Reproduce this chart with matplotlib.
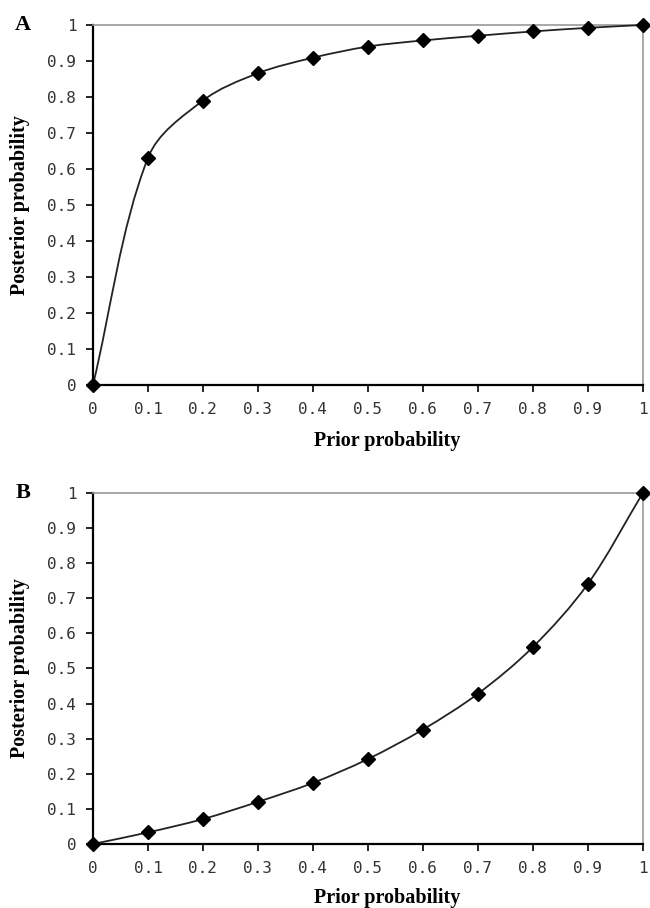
import numpy as np
import matplotlib
matplotlib.use('Agg')
import matplotlib.pyplot as plt
from matplotlib.path import Path
from matplotlib.patches import PathPatch

# data
prior = [0, 0.1, 0.2, 0.3, 0.4, 0.5, 0.6, 0.7, 0.8, 0.9, 1.0]
post_a = [0, 0.631, 0.79, 0.866, 0.909, 0.94, 0.957, 0.97, 0.982, 0.992, 1.0]
post_b = [0, 0.033, 0.071, 0.12, 0.174, 0.242, 0.326, 0.428, 0.561, 0.741, 1.0]
ticks = [0, 0.1, 0.2, 0.3, 0.4, 0.5, 0.6, 0.7, 0.8, 0.9, 1]
tick_labels = ['0', '0.1', '0.2', '0.3', '0.4', '0.5', '0.6', '0.7', '0.8', '0.9', '1']
panels = ['A', 'B']


def smooth_path(x, y, aspect):
    # smoothed line through the points (cubic bezier, tangents from neighbours)
    # work in a space where x and y have the same pixel scale
    p = np.column_stack([np.asarray(x, float), np.asarray(y, float) * aspect])
    n = len(p)
    tang = []
    for i in range(n):
        d = p[min(i + 1, n - 1)] - p[max(i - 1, 0)]
        tang.append(d / np.hypot(*d))
    verts = [p[0]]
    codes = [Path.MOVETO]
    for i in range(n - 1):
        seg = np.hypot(*(p[i + 1] - p[i]))
        c1 = p[i] + tang[i] * seg * 0.33
        c2 = p[i + 1] - tang[i + 1] * seg * 0.33
        verts += [c1, c2, p[i + 1]]
        codes += [Path.CURVE4, Path.CURVE4, Path.CURVE4]
    verts = np.array(verts)
    verts[:, 1] /= aspect
    return Path(verts, codes)


fig = plt.figure(figsize=(6.5, 9.08), dpi=100)
ax_a = fig.add_axes([0.143, 0.576, 0.846, 0.3965])
ax_b = fig.add_axes([0.143, 0.0705, 0.846, 0.3866])

for ax, post, name, xl_y in [(ax_a, post_a, 'A', -0.128),
                             (ax_b, post_b, 'B', -0.124)]:
    bb = ax.get_position()
    aspect = (bb.height * 9.08) / (bb.width * 6.5)
    patch = PathPatch(smooth_path(prior, post, aspect), facecolor='none',
                      edgecolor='#222222', lw=1.3, zorder=3, clip_on=False)
    ax.add_patch(patch)
    ax.plot(prior, post, ls='none', marker='D', ms=7.5, color='black',
            zorder=4, clip_on=False)

    ax.set_xlim(0, 1)
    ax.set_ylim(0, 1)
    ax.set_xticks(ticks)
    ax.set_xticklabels(tick_labels)
    ax.set_yticks(ticks)
    ax.set_yticklabels(tick_labels)
    ax.tick_params(direction='out', length=5, width=1.2, pad=7,
                   labelsize=11.5, colors='black')
    for t in ax.get_xticklabels() + ax.get_yticklabels():
        t.set_color('#333333')
        t.set_family('DejaVu Sans Mono')

    ax.spines['left'].set_linewidth(1.6)
    ax.spines['bottom'].set_linewidth(1.6)
    ax.spines['top'].set_color('#999999')
    ax.spines['right'].set_color('#999999')
    ax.spines['top'].set_linewidth(1.2)
    ax.spines['right'].set_linewidth(1.2)

    ax.set_xlabel('Prior probability', family='Liberation Serif',
                  fontweight='bold', fontsize=14.5)
    ax.xaxis.set_label_coords(0.535, xl_y)
    ax.set_ylabel('Posterior probability', family='Liberation Serif',
                  fontweight='bold', fontsize=14.5)
    ax.yaxis.set_label_coords(-0.115, 0.5)

    ax.text(-0.128, 1.0, name, transform=ax.transAxes, ha='center',
            va='center', family='Liberation Serif', fontweight='bold',
            fontsize=16)

fig.savefig('out.png', dpi=100)
